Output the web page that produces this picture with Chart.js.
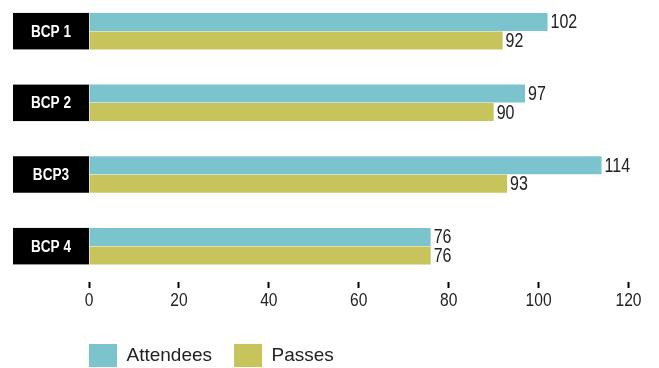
<!DOCTYPE html>
<html>
<head>
<meta charset="utf-8">
<script src="https://cdn.jsdelivr.net/npm/chart.js@4/dist/chart.umd.min.js"></script>
<style>
  html, body { margin: 0; padding: 0; background: #fff; }
  #wrap { width: 659px; height: 368px; }
</style>
</head>
<body>
<div id="wrap"><canvas id="chart"></canvas></div>
<script>
// Data.
const categories = ['BCP 1', 'BCP 2', 'BCP3', 'BCP 4'];
const attendees = [102, 97, 114, 76];
const passes = [92, 90, 93, 76];
const xTicks = [0, 20, 40, 60, 80, 100, 120];

const sans = "'Liberation Sans', Arial, sans-serif";

// Draws text squeezed horizontally, to look like a condensed face.
function narrowText(ctx, text, x, y, squeeze) {
    ctx.save();
    ctx.translate(x, y);
    ctx.scale(squeeze, 1);
    ctx.fillText(text, 0, 0);
    ctx.restore();
}

// Black label boxes on the left of each group.
const labelBoxes = {
    id: 'labelBoxes',
    beforeDatasetsDraw(chart) {
        const ctx = chart.ctx;
        const m0 = chart.getDatasetMeta(0);
        const m1 = chart.getDatasetMeta(1);
        ctx.save();
        categories.forEach((name, i) => {
            const top = m0.data[i].y - m0.data[i].height / 2;
            const bottom = m1.data[i].y + m1.data[i].height / 2;
            const left = 13;
            const right = chart.chartArea.left;
            ctx.fillStyle = '#000';
            ctx.fillRect(left, top, right - left, bottom - top);
            ctx.fillStyle = '#fff';
            ctx.font = 'bold 16px ' + sans;
            ctx.textAlign = 'center';
            ctx.textBaseline = 'middle';
            narrowText(ctx, name, (left + right) / 2, (top + bottom) / 2 + 1, 0.85);
        });
        ctx.restore();
    }
};

// Value labels at the end of each bar, and the x tick labels.
const textLabels = {
    id: 'textLabels',
    afterDatasetsDraw(chart) {
        const ctx = chart.ctx;
        ctx.save();
        ctx.fillStyle = '#222';
        ctx.font = '20px ' + sans;
        ctx.textAlign = 'left';
        ctx.textBaseline = 'middle';
        chart.data.datasets.forEach((ds, d) => {
            chart.getDatasetMeta(d).data.forEach((bar, i) => {
                narrowText(ctx, String(ds.data[i].x), bar.x + 3, bar.y + 1, 0.8);
            });
        });
        const xs = chart.scales.x;
        ctx.font = '19px ' + sans;
        ctx.textAlign = 'center';
        xs.ticks.forEach((t, i) => {
            narrowText(ctx, String(t.value), xs.getPixelForTick(i), xs.top + 19, 0.82);
        });
        ctx.restore();
    }
};

new Chart(document.getElementById('chart'), {
    type: 'bar',
    data: {
        labels: categories,
        datasets: [
            { label: 'Attendees', data: attendees.map((v, i) => ({ x: v, y: i })), backgroundColor: '#7bc4cd', borderWidth: 0 },
            { label: 'Passes', data: passes.map((v, i) => ({ x: v, y: i })), backgroundColor: '#c6c45a', borderWidth: 0 }
        ]
    },
    options: {
        indexAxis: 'y',
        responsive: true,
        maintainAspectRatio: false,
        animation: false,
        categoryPercentage: 0.516,
        barPercentage: 0.973,
        layout: { padding: { left: 67, right: 30.5, top: 0, bottom: 0 } },
        scales: {
            x: {
                type: 'linear',
                min: 0,
                max: 120,
                afterBuildTicks: (scale) => { scale.ticks = xTicks.map(v => ({ value: v })); },
                afterFit: (scale) => { scale.height = 40; },
                grid: { drawOnChartArea: false, drawTicks: true, tickLength: 6, tickWidth: 2, tickColor: '#000' },
                border: { display: false },
                ticks: { display: false }
            },
            y: {
                type: 'linear',
                reverse: true,
                offset: false,
                bounds: 'data',
                min: -0.435,
                max: 3.5,
                afterBuildTicks: (scale) => { scale.ticks = categories.map((c, i) => ({ value: i })); },
                afterFit: (scale) => { scale.width = 22; },
                grid: { display: false },
                border: { display: false },
                ticks: { display: false }
            }
        },
        plugins: {
            legend: {
                position: 'bottom',
                align: 'start',
                maxHeight: 46,
                labels: {
                    boxWidth: 28,
                    boxHeight: 23,
                    padding: 22,
                    color: '#222',
                    font: { size: 19, family: sans }
                }
            },
            tooltip: { enabled: false }
        }
    },
    plugins: [labelBoxes, textLabels]
});
</script>
</body>
</html>
